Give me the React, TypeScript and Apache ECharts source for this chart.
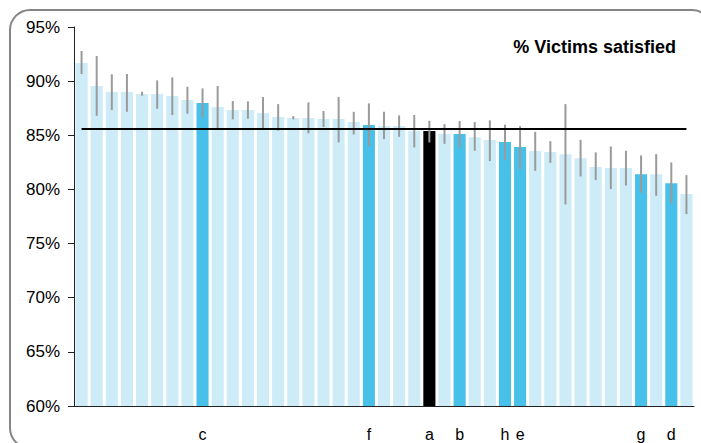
import React, { useEffect, useRef } from "react";
import * as echarts from "echarts";

const categories = ["", "", "", "", "", "", "", "", "c", "", "", "", "", "", "", "", "", "", "", "f", "", "", "", "a", "", "b", "", "", "h", "e", "", "", "", "", "", "", "", "g", "", "d", ""];
const satisfied = [91.67, 89.55, 88.99, 88.99, 88.81, 88.81, 88.62, 88.25, 87.98, 87.61, 87.33, 87.33, 87.05, 86.68, 86.59, 86.59, 86.5, 86.5, 86.22, 85.94, 85.85, 85.85, 85.39, 85.39, 85.11, 85.11, 84.83, 84.56, 84.37, 83.91, 83.54, 83.45, 83.26, 82.89, 82.06, 81.97, 81.97, 81.41, 81.41, 80.58, 79.57];
const errHigh = [92.78, 92.32, 90.63, 90.66, 89.02, 90.07, 90.35, 89.48, 89.33, 89.55, 88.16, 88.13, 88.53, 87.88, 86.77, 88.04, 87.24, 88.53, 87.17, 87.95, 87.17, 86.84, 86.87, 86.34, 86.03, 86.31, 86.22, 86.38, 85.97, 85.85, 85.32, 84.46, 87.88, 84.58, 83.42, 83.97, 83.57, 83.14, 83.26, 82.49, 81.32];
const errLow = [90.65, 86.8, 87.33, 87.17, 88.65, 87.45, 86.87, 86.99, 86.65, 85.64, 86.47, 86.53, 85.64, 85.42, 86.47, 85.18, 85.76, 84.34, 85.08, 84.0, 84.65, 84.86, 83.88, 84.34, 84.21, 83.85, 83.57, 82.62, 82.71, 81.85, 81.72, 82.46, 78.61, 81.2, 80.86, 80.03, 80.37, 79.69, 79.41, 78.71, 77.72];
const averageLine = 85.57;
const selfLabel = "a";
const yTicks = [60, 65, 70, 75, 80, 85, 90, 95];
const chartTitle = "% Victims satisfied";

const FONT = "'Liberation Sans', Arial, sans-serif";

export default function App() {
  const ref = useRef<HTMLDivElement>(null);
  useEffect(() => {
    if (!ref.current) return;
    const chart = echarts.init(ref.current, undefined, { renderer: "svg" });
    const barData = satisfied.map((v, i) => ({
      value: v,
      itemStyle: {
        color: categories[i] === selfLabel ? "#000000" : categories[i] ? "#48c1ea" : "#cdecf8",
      },
    }));
    const errData = satisfied.map((_, i) => [i, errLow[i], errHigh[i]]);
    chart.setOption({
      animation: false,
      textStyle: { fontFamily: FONT },
      graphic: [
        {
          type: "rect",
          shape: { x: 10, y: 10, width: 702, height: 438, r: 20 },
          style: { fill: "none", stroke: "#858585", lineWidth: 2 },
          silent: true,
        },
      ],
      title: {
        text: chartTitle,
        right: 20,
        top: 33,
        textStyle: { fontFamily: FONT, fontWeight: "bold", fontSize: 18, color: "#000" },
      },
      grid: { left: 74, right: 7, top: 27, bottom: 37 },
      xAxis: {
        type: "category",
        data: categories,
        axisTick: { show: false },
        axisLine: { lineStyle: { color: "#222", width: 1 } },
        axisLabel: { interval: 0, margin: 20, fontSize: 16, color: "#000", fontFamily: FONT },
      },
      yAxis: {
        type: "value",
        min: yTicks[0],
        max: yTicks[yTicks.length - 1],
        interval: 5,
        splitLine: { show: false },
        axisLine: { show: true, lineStyle: { color: "#222", width: 1 } },
        axisTick: { show: true, length: 6, lineStyle: { color: "#222" } },
        axisLabel: { formatter: "{value}%", fontSize: 17, color: "#000", margin: 14, fontFamily: FONT },
      },
      series: [
        {
          type: "bar",
          data: barData,
          barCategoryGap: "20%",
          markLine: {
            silent: true,
            symbol: "none",
            label: { show: false },
            lineStyle: { color: "#000", width: 2, type: "solid" },
            data: [[{ coord: [0, averageLine] }, { coord: [categories.length - 1, averageLine] }]],
          },
        },
        {
          type: "custom",
          data: errData,
          z: 3,
          renderItem: (params: any, api: any) => {
            const x = api.value(0);
            const lo = api.value(1);
            const hi = api.value(2);
            const p1 = api.coord([x, hi]);
            const p2 = api.coord([x, lo]);
            return {
              type: "line",
              shape: { x1: p1[0], y1: p1[1], x2: p2[0], y2: p2[1] },
              style: { stroke: "#9a9a9a", lineWidth: 2 },
            };
          },
        },
      ],
    });
    return () => chart.dispose();
  }, []);
  return <div ref={ref} style={{ width: 701, height: 443, position: "absolute", left: 0, top: 0 }} />;
}
